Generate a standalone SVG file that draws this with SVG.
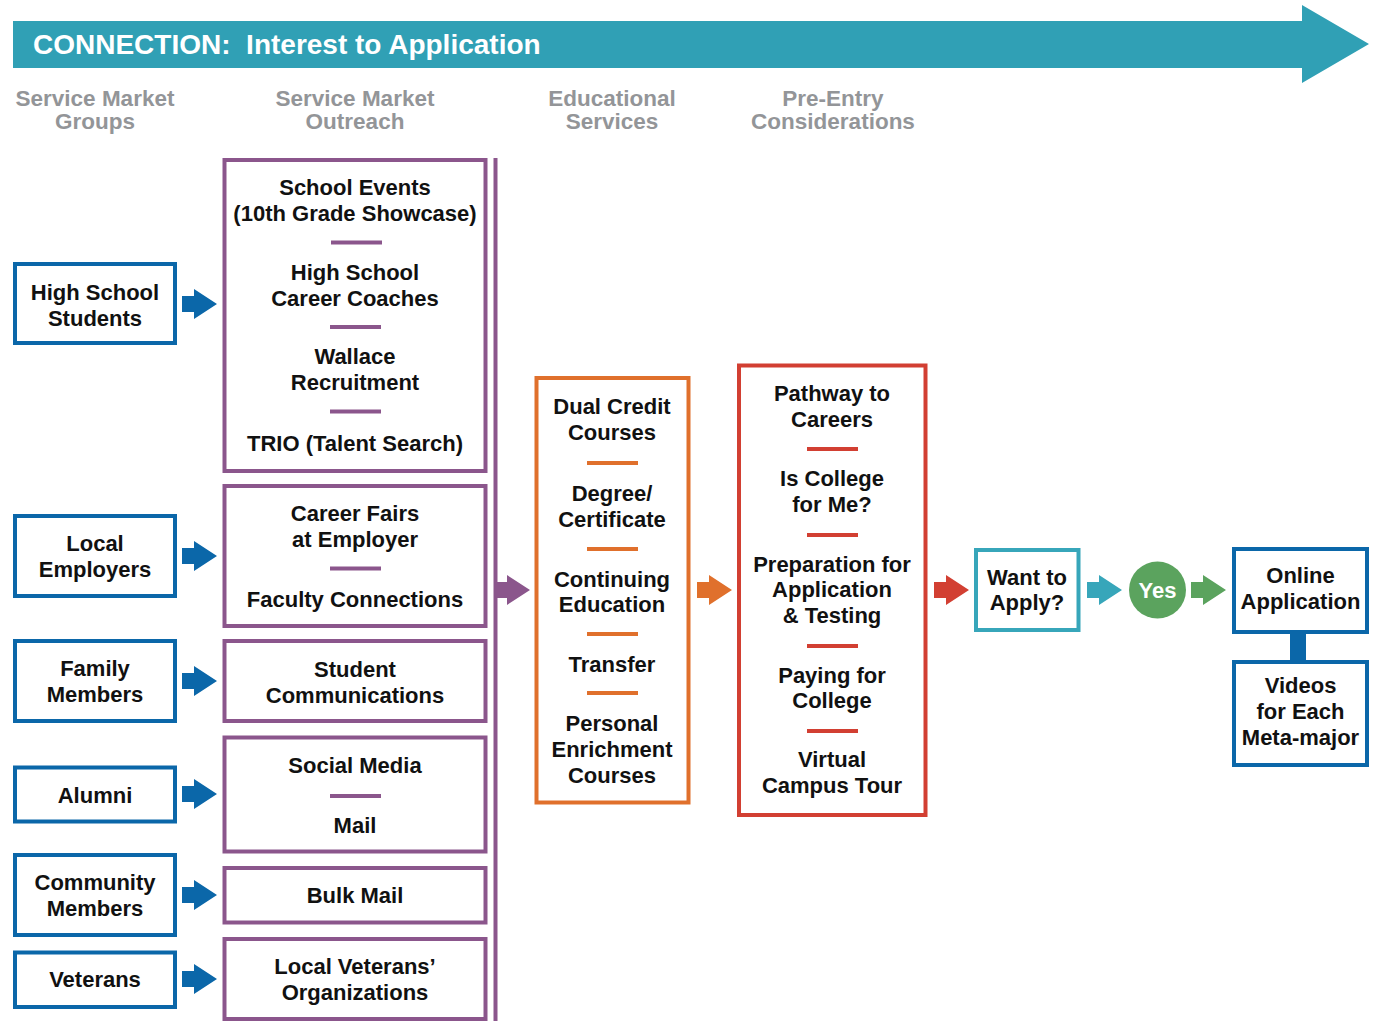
<svg xmlns="http://www.w3.org/2000/svg" xmlns:xlink="http://www.w3.org/1999/xlink" width="1374" height="1021" viewBox="0 0 1374 1021">
<style>
  .t{font-family:"Liberation Sans",Arial,sans-serif;font-weight:bold;font-size:22px;text-anchor:middle;fill:#111111;}
  .h{font-family:"Liberation Sans",Arial,sans-serif;font-weight:bold;font-size:22.5px;text-anchor:middle;fill:#939598;}
  .title{font-family:"Liberation Sans",Arial,sans-serif;font-weight:bold;font-size:28px;fill:#ffffff;white-space:pre;}
  .yes{font-family:"Liberation Sans",Arial,sans-serif;font-weight:bold;font-size:22px;text-anchor:middle;fill:#ffffff;}
  .bb{fill:#ffffff;stroke:#0b67a9;stroke-width:4;}
  .pb{fill:#ffffff;stroke:#8b568c;stroke-width:4;}
  .ob{fill:#ffffff;stroke:#e0702c;stroke-width:4;}
  .rb{fill:#ffffff;stroke:#d23f32;stroke-width:4;}
  .tb{fill:#ffffff;stroke:#37a6ba;stroke-width:4;}
  .ps{stroke:#8b568c;stroke-width:4;}
  .os{stroke:#e0702c;stroke-width:4;}
  .rs{stroke:#d23f32;stroke-width:4;}
</style>
<defs>
  <path id="arr" d="M0,-8 H12 V-15 L35,0 L12,15 V8 H0 Z"/>
</defs>
<rect width="1374" height="1021" fill="#ffffff"/>

<g id="banner">
  <polygon points="13,21 1302,21 1302,5 1369,44 1302,83 1302,68 13,68" fill="#30a0b5"/>
  <text class="title" x="33" y="54" xml:space="preserve">CONNECTION:  Interest to Application</text>
</g>

<g id="headers">
  <text class="h" x="95" y="106">Service Market</text>
  <text class="h" x="95" y="129">Groups</text>
  <text class="h" x="355" y="106">Service Market</text>
  <text class="h" x="355" y="129">Outreach</text>
  <text class="h" x="612" y="106">Educational</text>
  <text class="h" x="612" y="129">Services</text>
  <text class="h" x="833" y="106">Pre-Entry</text>
  <text class="h" x="833" y="129">Considerations</text>
</g>

<!-- Service market groups -->
<g id="high-school-students">
  <rect class="bb" x="15" y="264" width="160" height="79"/>
  <text class="t" x="95" y="300">High School</text>
  <text class="t" x="95" y="326">Students</text>
</g>
<g id="local-employers">
  <rect class="bb" x="15" y="516" width="160" height="80"/>
  <text class="t" x="95" y="551">Local</text>
  <text class="t" x="95" y="577">Employers</text>
</g>
<g id="family-members">
  <rect class="bb" x="15" y="641" width="160" height="80"/>
  <text class="t" x="95" y="676">Family</text>
  <text class="t" x="95" y="702">Members</text>
</g>
<g id="alumni">
  <rect class="bb" x="15" y="767.5" width="160" height="54"/>
  <text class="t" x="95" y="803">Alumni</text>
</g>
<g id="community-members">
  <rect class="bb" x="15" y="855" width="160" height="80"/>
  <text class="t" x="95" y="890">Community</text>
  <text class="t" x="95" y="916">Members</text>
</g>
<g id="veterans">
  <rect class="bb" x="15" y="952.5" width="160" height="54.5"/>
  <text class="t" x="95" y="987">Veterans</text>
</g>

<!-- Service market outreach -->
<g id="school-outreach">
  <rect class="pb" x="224.5" y="160" width="261" height="311"/>
  <text class="t" x="355" y="195">School Events</text>
  <text class="t" x="355" y="221">(10th Grade Showcase)</text>
  <line class="ps" x1="331" y1="242.5" x2="382" y2="242.5"/>
  <text class="t" x="355" y="280">High School</text>
  <text class="t" x="355" y="306">Career Coaches</text>
  <line class="ps" x1="330" y1="327" x2="381" y2="327"/>
  <text class="t" x="355" y="364">Wallace</text>
  <text class="t" x="355" y="390">Recruitment</text>
  <line class="ps" x1="330" y1="411.5" x2="381" y2="411.5"/>
  <text class="t" x="355" y="451">TRIO (Talent Search)</text>
</g>
<g id="employer-outreach">
  <rect class="pb" x="224.5" y="486" width="261" height="140"/>
  <text class="t" x="355" y="521">Career Fairs</text>
  <text class="t" x="355" y="547">at Employer</text>
  <line class="ps" x1="330" y1="568.5" x2="381" y2="568.5"/>
  <text class="t" x="355" y="607">Faculty Connections</text>
</g>
<g id="student-communications">
  <rect class="pb" x="224.5" y="641" width="261" height="80"/>
  <text class="t" x="355" y="677">Student</text>
  <text class="t" x="355" y="703">Communications</text>
</g>
<g id="social-media-mail">
  <rect class="pb" x="224.5" y="737.5" width="261" height="114"/>
  <text class="t" x="355" y="773">Social Media</text>
  <line class="ps" x1="330" y1="796" x2="381" y2="796"/>
  <text class="t" x="355" y="833">Mail</text>
</g>
<g id="bulk-mail">
  <rect class="pb" x="224.5" y="868" width="261" height="54.5"/>
  <text class="t" x="355" y="903">Bulk Mail</text>
</g>
<g id="veterans-organizations">
  <rect class="pb" x="224.5" y="939" width="261" height="80"/>
  <text class="t" x="355" y="974">Local Veterans’</text>
  <text class="t" x="355" y="1000">Organizations</text>
</g>

<!-- Educational services -->
<g id="educational-services">
  <rect class="ob" x="536.5" y="378" width="152" height="424.5"/>
  <text class="t" x="612" y="414">Dual Credit</text>
  <text class="t" x="612" y="440">Courses</text>
  <line class="os" x1="587" y1="463" x2="638" y2="463"/>
  <text class="t" x="612" y="501">Degree/</text>
  <text class="t" x="612" y="527">Certificate</text>
  <line class="os" x1="587" y1="549" x2="638" y2="549"/>
  <text class="t" x="612" y="587">Continuing</text>
  <text class="t" x="612" y="612">Education</text>
  <line class="os" x1="587" y1="634" x2="638" y2="634"/>
  <text class="t" x="612" y="672">Transfer</text>
  <line class="os" x1="587" y1="693" x2="638" y2="693"/>
  <text class="t" x="612" y="731">Personal</text>
  <text class="t" x="612" y="757">Enrichment</text>
  <text class="t" x="612" y="783">Courses</text>
</g>

<!-- Pre-entry considerations -->
<g id="pre-entry-considerations">
  <rect class="rb" x="739" y="365.5" width="186.5" height="449.5"/>
  <text class="t" x="832" y="401">Pathway to</text>
  <text class="t" x="832" y="427">Careers</text>
  <line class="rs" x1="807" y1="449" x2="858" y2="449"/>
  <text class="t" x="832" y="486">Is College</text>
  <text class="t" x="832" y="512">for Me?</text>
  <line class="rs" x1="807" y1="535" x2="858" y2="535"/>
  <text class="t" x="832" y="572">Preparation for</text>
  <text class="t" x="832" y="597">Application</text>
  <text class="t" x="832" y="623">&amp; Testing</text>
  <line class="rs" x1="807" y1="646" x2="858" y2="646"/>
  <text class="t" x="832" y="683">Paying for</text>
  <text class="t" x="832" y="708">College</text>
  <line class="rs" x1="807" y1="731" x2="858" y2="731"/>
  <text class="t" x="832" y="767">Virtual</text>
  <text class="t" x="832" y="793">Campus Tour</text>
</g>

<g id="want-to-apply">
  <rect class="tb" x="976" y="550" width="102.5" height="80"/>
  <text class="t" x="1027" y="585">Want to</text>
  <text class="t" x="1027" y="610">Apply?</text>
</g>
<g id="yes">
  <circle cx="1157.5" cy="590" r="28.5" fill="#5ba35e"/>
  <text class="yes" x="1157.5" y="598">Yes</text>
</g>
<g id="online-application">
  <rect class="bb" x="1234" y="549" width="133" height="83"/>
  <text class="t" x="1300.5" y="583">Online</text>
  <text class="t" x="1300.5" y="609">Application</text>
</g>
<g id="videos">
  <rect class="bb" x="1234" y="662" width="133" height="103"/>
  <text class="t" x="1300.5" y="693">Videos</text>
  <text class="t" x="1300.5" y="719">for Each</text>
  <text class="t" x="1300.5" y="745">Meta-major</text>
</g>

<g id="connectors">
  <use xlink:href="#arr" x="182" y="304" fill="#0b67a9"/>
  <use xlink:href="#arr" x="182" y="556" fill="#0b67a9"/>
  <use xlink:href="#arr" x="182" y="681" fill="#0b67a9"/>
  <use xlink:href="#arr" x="182" y="794" fill="#0b67a9"/>
  <use xlink:href="#arr" x="182" y="895" fill="#0b67a9"/>
  <use xlink:href="#arr" x="182" y="979" fill="#0b67a9"/>
  <rect x="493.5" y="158" width="4" height="863" fill="#8b568c"/>
  <use xlink:href="#arr" x="495" y="590" fill="#8b568c"/>
  <use xlink:href="#arr" x="697" y="590" fill="#e0702c"/>
  <use xlink:href="#arr" x="934" y="590" fill="#d23f32"/>
  <use xlink:href="#arr" x="1087" y="590" fill="#37a6ba"/>
  <use xlink:href="#arr" x="1191" y="590" fill="#5ba35e"/>
  <rect x="1290" y="632" width="16" height="30" fill="#0b67a9"/>
</g>
</svg>
